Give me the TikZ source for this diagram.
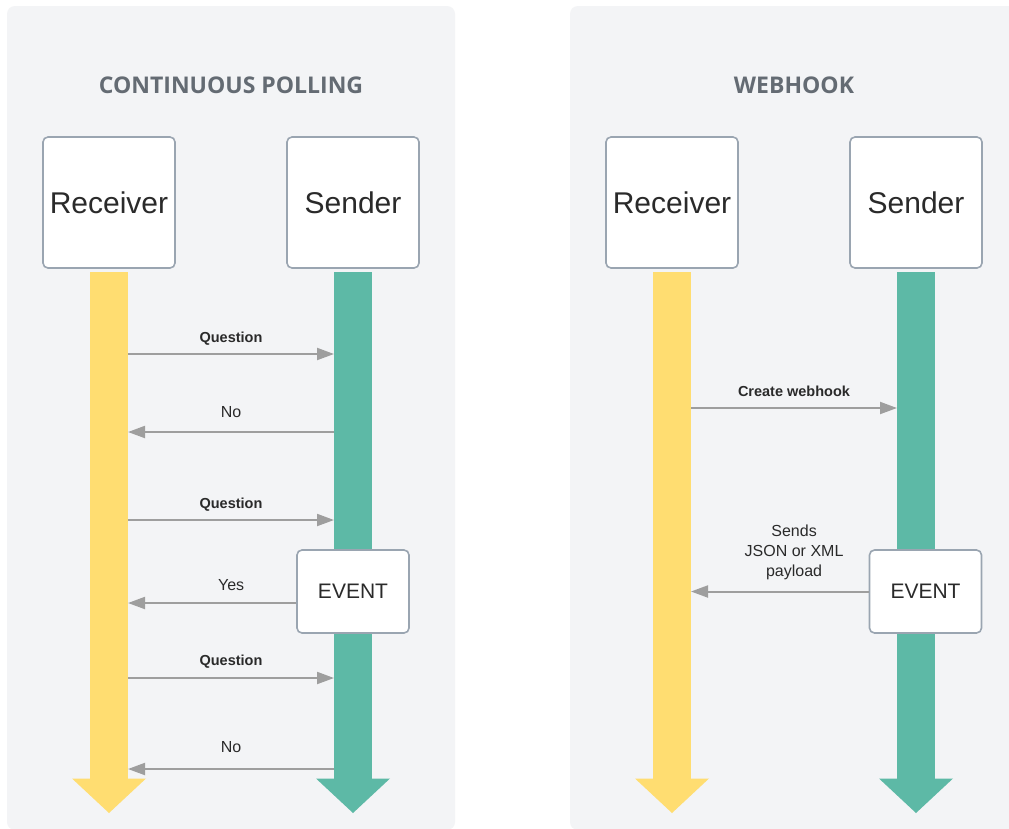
\documentclass[tikz,border=0pt]{standalone}
\usepackage{fontspec}
\setmainfont{Liberation Sans}
\newfontfamily\titlefont{Open Sans}
\usetikzlibrary{arrows.meta,calc}

\definecolor{panelbg}{HTML}{F3F4F6}
\definecolor{boxline}{HTML}{9AA5B1}
\definecolor{titlegray}{HTML}{646B73}
\definecolor{textdark}{HTML}{2A2A2A}
\definecolor{msggray}{HTML}{9E9E9E}
\definecolor{recvyellow}{HTML}{FFDD71}
\definecolor{sendgreen}{HTML}{5DB9A6}

\tikzset{
  panel/.style={fill=panelbg, rounded corners=8pt},
  paneltitle/.style={anchor=base, inner sep=0pt, text=titlegray,
    font=\titlefont\bfseries\fontsize{23}{28}\selectfont},
  actor/.style={draw=boxline, line width=1.6pt, fill=white, rounded corners=5pt,
    minimum width=132pt, minimum height=131pt, inner sep=0pt, text=textdark,
    font=\fontsize{30}{36}\selectfont},
  eventbox/.style={draw=boxline, line width=1.6pt, fill=white, rounded corners=5pt,
    minimum width=112pt, minimum height=83pt, inner sep=0pt, text=textdark,
    font=\fontsize{21}{25}\selectfont},
  lifebar/.style={anchor=north, minimum width=38pt, minimum height=507pt,
    inner sep=0pt, outer sep=0pt},
  msg/.style={draw=msggray, line width=2pt,
    -{Triangle[length=17pt,width=12pt]}},
  boldlbl/.style={midway, anchor=base, inner sep=0pt, text=textdark,
    font=\bfseries\fontsize{14.5}{17}\selectfont},
  lbl/.style={midway, anchor=base, inner sep=0pt, text=textdark,
    font=\fontsize{16}{20}\selectfont},
}

\begin{document}
\begin{tikzpicture}[x=1pt, y=-1pt]
  \useasboundingbox (0,0) rectangle (1009,828);
  \fill[white] (0,0) rectangle (1009,828);

  % two panels
  \fill[panel] (7,6) rectangle (455,830);
  \fill[panel] (570,6) rectangle (1030,830);

  % ---------------- continuous polling ----------------
  \node[paneltitle] (t1) at (231,93) {CONTINUOUS POLLING};

  \node[lifebar, fill=recvyellow] (rbar1) at (109,272) {};
  \node[lifebar, fill=sendgreen]  (sbar1) at (353,272) {};
  \fill[recvyellow] ($(rbar1.south)+(-37,-0.5)$) -- ($(rbar1.south)+(37,-0.5)$)
    -- ($(rbar1.south)+(0,34)$) -- cycle;
  \fill[sendgreen] ($(sbar1.south)+(-37,-0.5)$) -- ($(sbar1.south)+(37,-0.5)$)
    -- ($(sbar1.south)+(0,34)$) -- cycle;

  \node[actor] (recv1) at (109,202.5) {\raisebox{-1.5pt}{Receiver}};
  \node[actor] (send1) at (353,202.5) {\raisebox{-1.5pt}{Sender}};

  \node[eventbox] (ev1) at (353,591.5) {EVENT};

  \draw[msg] (rbar1.east |- 0,354) -- node[boldlbl, yshift=12pt] {Question} (sbar1.west |- 0,354);
  \draw[msg] (sbar1.west |- 0,432) -- node[lbl, yshift=15pt] {No} (rbar1.east |- 0,432);
  \draw[msg] (rbar1.east |- 0,520) -- node[boldlbl, yshift=12pt] {Question} (sbar1.west |- 0,520);
  \draw[msg] ($(ev1.west)+(0,11.5)$) coordinate (yes1) -- (rbar1.east |- yes1)
    node[lbl, pos=0.387, yshift=13pt] {Yes};
  \draw[msg] (rbar1.east |- 0,678) -- node[boldlbl, yshift=13pt] {Question} (sbar1.west |- 0,678);
  \draw[msg] (sbar1.west |- 0,769) -- node[lbl, yshift=17pt] {No} (rbar1.east |- 0,769);

  % ---------------- webhook ----------------
  \node[paneltitle] (t2) at (794,93) {WEBHOOK};

  \node[lifebar, fill=recvyellow] (rbar2) at (672,272) {};
  \node[lifebar, fill=sendgreen]  (sbar2) at (916,272) {};
  \fill[recvyellow] ($(rbar2.south)+(-37,-0.5)$) -- ($(rbar2.south)+(37,-0.5)$)
    -- ($(rbar2.south)+(0,34)$) -- cycle;
  \fill[sendgreen] ($(sbar2.south)+(-37,-0.5)$) -- ($(sbar2.south)+(37,-0.5)$)
    -- ($(sbar2.south)+(0,34)$) -- cycle;

  \node[actor] (recv2) at (672,202.5) {\raisebox{-1.5pt}{Receiver}};
  \node[actor] (send2) at (916,202.5) {\raisebox{-1.5pt}{Sender}};

  \node[eventbox] (ev2) at (925.5,591.5) {EVENT};

  \draw[msg] (rbar2.east |- 0,408) -- node[boldlbl, yshift=12pt] {Create webhook} (sbar2.west |- 0,408);
  \draw[msg] (ev2.west) -- (rbar2.east |- ev2.west)
    node[lbl, pos=0.42, anchor=south, yshift=11pt, align=center] {Sends\\JSON or XML\\payload};
\end{tikzpicture}
\end{document}
